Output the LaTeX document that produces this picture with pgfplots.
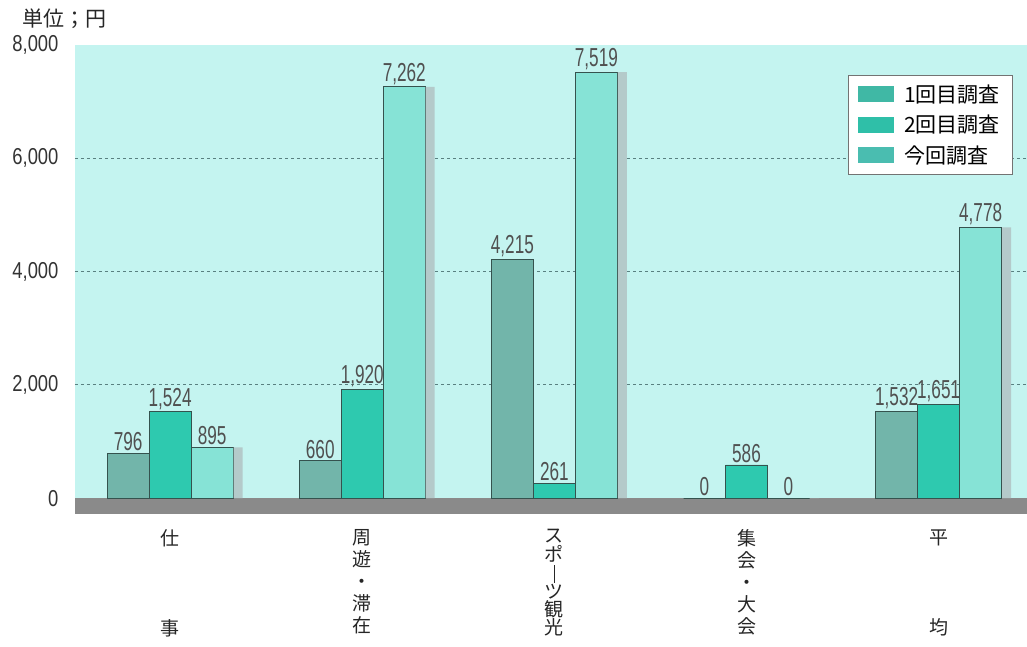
\documentclass[border=0pt]{standalone}
\usepackage{fontspec}
\usepackage{pgfplots}
\pgfplotsset{compat=1.18}
\setmainfont{Noto Sans CJK JP}
\newfontfamily\yaxfont[FakeStretch=0.8]{Liberation Sans}
\newfontfamily\labnum[FakeStretch=0.66]{Liberation Sans}
\definecolor{bgc}{HTML}{C4F4F0}
\definecolor{cA}{HTML}{72B5AA}
\definecolor{cB}{HTML}{2EC9AF}
\definecolor{cC}{HTML}{86E3D6}
\definecolor{lA}{HTML}{40B8A5}
\definecolor{lB}{HTML}{2FBFA8}
\definecolor{lC}{HTML}{4ABDB0}
\definecolor{edge}{HTML}{35524E}
\definecolor{floorc}{HTML}{8A8A8A}
\definecolor{shadow}{HTML}{B4CACA}
\definecolor{txt}{HTML}{505050}
\newcommand{\vstack}[2]{\vbox{\hsize=26pt\parindent=0pt\parskip=0pt\baselineskip=#1\lineskiplimit=-60pt\lineskip=0pt\centering #2\par}}
\newcommand{\labA}{\vstack{90pt}{仕\par 事}}
\newcommand{\labB}{\vstack{22pt}{周\par 遊\par ・\par 滞\par 在}}
\newcommand{\labC}{\vstack{18.4pt}{ス\par ポ\par \rule[-3pt]{0.9pt}{18pt}\par ツ\par 観\par 光}}
\newcommand{\labD}{\vstack{22pt}{集\par 会\par ・\par 大\par 会}}
\newcommand{\labE}{\vstack{90pt}{平\par 均}}
\pgfplotsset{valnodes/.style={nodes near coords={\pgfmathprintnumber[1000 sep={,},assume math mode=true]{\pgfplotspointmeta}},
  nodes near coords style={font=\labnum\fontsize{26}{26}\selectfont, text=txt, inner sep=2pt}}}
\begin{document}
\begin{tikzpicture}
\path[use as bounding box] (-75pt,-133pt) rectangle (952pt,514pt);
\node[anchor=west, inner sep=0pt, font=\fontsize{21}{21}\selectfont, text=black!85] at (-53pt,495pt) {単位；円};
\begin{axis}[
  at={(0pt,0pt)}, anchor=south west,
  scale only axis, width=952pt, height=469pt,
  xmin=-0.495, xmax=4.46, ymin=-280, ymax=8000,
  axis background/.style={fill=bgc},
  axis line style={draw=none},
  major tick length=0pt,
  ytick={0,2000,4000,6000,8000},
  yticklabels={0,{2,000},{4,000},{6,000},{8,000}},
  xtick={0,1,2,3,4},
  xticklabels={\labA,\labB,\labC,\labD,\labE},
  xticklabel style={anchor=north, yshift=-12pt, text=black!85, font=\fontsize{19}{22}\selectfont},
  yticklabel style={anchor=east, xshift=-13pt, text=black!80, font=\yaxfont\fontsize{23}{23}\selectfont},
  ybar=0pt, bar width=42pt,
  legend style={at={(1,1)}, anchor=north east, xshift=-15pt, yshift=-30pt,
    draw=gray!90!black, fill=white, font=\fontsize{21}{21}\selectfont,
    row sep=7pt, inner xsep=10pt, inner ysep=8pt},
  legend cell align=left,
]
\draw[dashed, gray!70!teal, line width=0.8pt] (axis cs:-0.495,2000) -- (axis cs:4.46,2000);
\draw[dashed, gray!70!teal, line width=0.8pt] (axis cs:-0.495,4000) -- (axis cs:4.46,4000);
\draw[dashed, gray!70!teal, line width=0.8pt] (axis cs:-0.495,6000) -- (axis cs:4.46,6000);
\fill[floorc] (axis cs:-0.495,-280) rectangle (axis cs:4.46,0);
\addplot[fill=cA, draw=edge, line width=0.8pt, bar shift=-42pt, valnodes, legend image code/.code={\fill[lA] (0pt,-7pt) rectangle (35pt,8pt);}] coordinates {(0,796) (1,660) (2,4215) (3,0) (4,1532)};
\addplot[fill=cB, draw=edge, line width=0.8pt, bar shift=0pt, valnodes, legend image code/.code={\fill[lB] (0pt,-7pt) rectangle (35pt,8pt);}] coordinates {(0,1524) (1,1920) (2,261) (3,586) (4,1651)};
\addplot[fill=cC, draw=edge, line width=0.8pt, bar shift=42pt, valnodes, legend image code/.code={\fill[lC] (0pt,-7pt) rectangle (35pt,8pt);}] coordinates {(0,895) (1,7262) (2,7519) (3,0) (4,4778)};
\addplot[forget plot, fill=shadow, draw=none, bar shift=68pt, bar width=9pt] coordinates {(0,895) (1,7262) (2,7519) (3,0) (4,4778)};
\legend{\hspace{8pt}1回目調査,\hspace{8pt}2回目調査,\hspace{8pt}今回調査}
\end{axis}
\end{tikzpicture}
\end{document}
